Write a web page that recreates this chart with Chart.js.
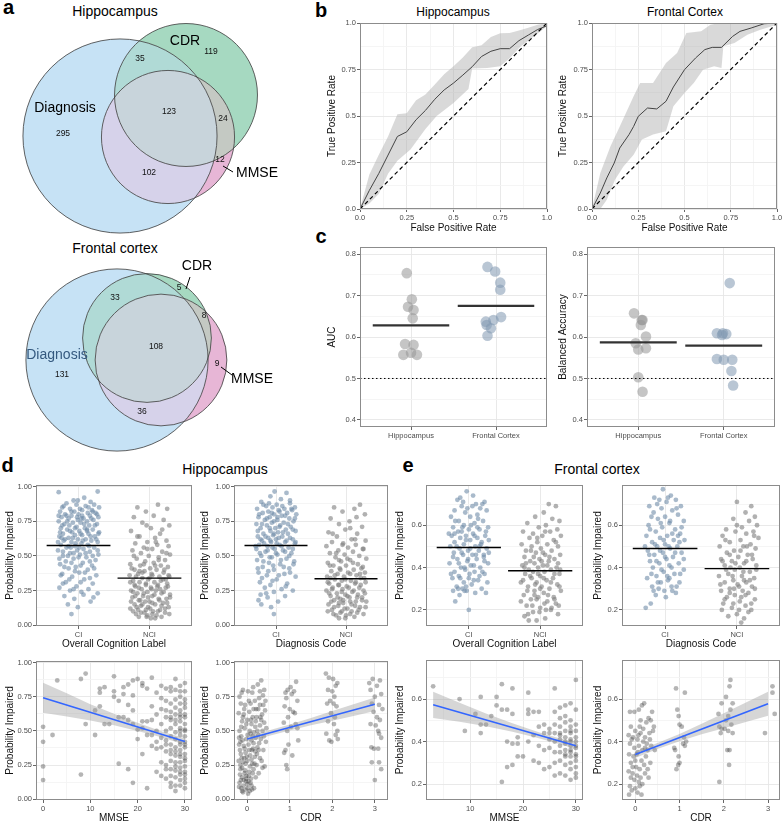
<!DOCTYPE html>
<html lang="en">
<head>
<meta charset="utf-8" />
<title>Hippocampus and frontal cortex models</title>
<style>
  * { margin: 0; padding: 0; }
  body { background: #fff; font-family: "Liberation Sans", Arial, sans-serif; }
  #fig { position: relative; width: 784px; height: 824px; overflow: hidden; }
  #fig canvas { position: absolute; }
  .txt { position: absolute; white-space: nowrap; line-height: 1; transform: translate(-50%, -50%); color: #000; }
  .tag { font-weight: bold; font-size: 20px; }
</style>
<script src="https://cdn.jsdelivr.net/npm/chart.js"></script>
</head>
<body>
<div id="fig">
  <div class="txt tag" style="left:8.5px;top:7px">a</div>
  <div class="txt tag" style="left:321px;top:10px">b</div>
  <div class="txt tag" style="left:321px;top:236px">c</div>
  <div class="txt tag" style="left:7.5px;top:465px">d</div>
  <div class="txt tag" style="left:408px;top:465px">e</div>
  <div class="txt" style="left:115px;top:11px;font-size:14px">Hippocampus</div>
  <div class="txt" style="left:115px;top:248px;font-size:14px">Frontal cortex</div>
  <div class="txt" style="left:453px;top:11.5px;font-size:12px">Hippocampus</div>
  <div class="txt" style="left:685px;top:11.5px;font-size:12px">Frontal Cortex</div>
  <div class="txt" style="left:225px;top:469px;font-size:14px">Hippocampus</div>
  <div class="txt" style="left:597px;top:469px;font-size:14px">Frontal cortex</div>
</div>
<script>
// ---------- a: Venn region counts (D, C, M, D&C, D&M, C&M, all three) ----------
const vennSets = ["Diagnosis", "CDR", "MMSE"];
const hipCounts = [295, 119, 12, 35, 102, 24, 123];
const frontCounts = [131, 5, 9, 33, 36, 8, 108];

// ---------- b: ROC curves ----------
const hipRocX = [0, 0.05, 0.1, 0.15, 0.2, 0.25, 0.3, 0.35, 0.4, 0.45, 0.5, 0.55, 0.6, 0.65, 0.7, 0.75, 0.8, 0.85, 0.9, 0.95, 1];
const hipRocY = [0, 0.1, 0.19, 0.29, 0.39, 0.415, 0.48, 0.53, 0.59, 0.64, 0.677, 0.72, 0.765, 0.82, 0.848, 0.862, 0.862, 0.905, 0.935, 0.965, 0.985];
const hipHiX = [0, 0.05, 0.1, 0.15, 0.2, 0.25, 0.3, 0.35, 0.4, 0.45, 0.5, 0.55, 0.6, 0.65, 0.7, 0.75, 0.8, 0.85, 0.9, 0.95, 1];
const hipHiY = [0, 0.185, 0.29, 0.39, 0.51, 0.515, 0.585, 0.615, 0.67, 0.725, 0.767, 0.815, 0.87, 0.88, 0.925, 0.945, 0.946, 0.96, 0.975, 0.99, 1];
const hipLoX = [0, 0.05, 0.1, 0.15, 0.2, 0.27, 0.35, 0.41, 0.5, 0.58, 0.6, 0.68, 0.75, 0.8, 0.86, 0.93, 1];
const hipLoY = [0, 0.03, 0.08, 0.19, 0.26, 0.32, 0.43, 0.5, 0.57, 0.645, 0.755, 0.758, 0.767, 0.81, 0.875, 0.928, 0.982];
const frontRocX = [0, 0.045, 0.08, 0.12, 0.15, 0.2, 0.225, 0.25, 0.3, 0.35, 0.4, 0.44, 0.5, 0.56, 0.61, 0.65, 0.7, 0.76, 0.8, 0.86, 0.93, 1];
const frontRocY = [0, 0.086, 0.167, 0.247, 0.328, 0.4, 0.444, 0.498, 0.543, 0.538, 0.579, 0.656, 0.749, 0.812, 0.857, 0.869, 0.869, 0.928, 0.955, 0.973, 0.996, 1];
const frontHiX = [0, 0.045, 0.1, 0.15, 0.225, 0.26, 0.33, 0.4, 0.46, 0.51, 0.59, 0.64, 0.69, 1];
const frontHiY = [0, 0.194, 0.337, 0.444, 0.606, 0.677, 0.677, 0.785, 0.839, 0.946, 0.955, 0.991, 1, 1];
const frontLoX = [0, 0.045, 0.08, 0.125, 0.17, 0.225, 0.27, 0.33, 0.4, 0.44, 0.5, 0.55, 0.6, 0.66, 0.7, 0.71, 0.77, 0.84, 0.91, 1];
const frontLoY = [0, 0, 0.05, 0.158, 0.229, 0.292, 0.373, 0.4, 0.418, 0.552, 0.624, 0.677, 0.749, 0.767, 0.758, 0.875, 0.892, 0.937, 0.964, 0.99];

// ---------- c: per-fold AUC / balanced accuracy ----------
const regions = ["Hippocampus", "Frontal Cortex"];
const aucHip = [[0.95, 0.754], [1.01, 0.691], [0.965, 0.673], [1.03, 0.665], [1.02, 0.645], [0.93, 0.583], [1.03, 0.581], [0.91, 0.557], [1.0, 0.562], [1.07, 0.557]];
const aucFront = [[1.9, 0.769], [1.99, 0.758], [2.05, 0.731], [2.05, 0.714], [2.06, 0.648], [1.97, 0.641], [1.88, 0.637], [1.89, 0.629], [1.94, 0.621], [1.9, 0.603]];
const baHip = [[0.95, 0.657], [1.05, 0.641], [1.04, 0.641], [1.03, 0.629], [1.09, 0.601], [0.97, 0.585], [1.0, 0.57], [1.09, 0.573], [1.0, 0.503], [1.05, 0.468]];
const baFront = [[2.07, 0.73], [1.92, 0.609], [1.99, 0.609], [2.03, 0.607], [1.98, 0.605], [1.92, 0.547], [2.0, 0.545], [2.1, 0.545], [2.09, 0.518], [2.11, 0.483]];
const aucMeans = [0.628, 0.675];
const baMeans = [0.587, 0.579];
const chance = 0.5;

// ---------- d: hippocampus predictions ----------
const groups = ["CI", "NCI"];
const hipCogCI = [[0.72,0.96],[1.27,0.965],[1.08,0.92],[0.93,0.9],[1.17,0.89],[0.83,0.88],[1.22,0.87],[0.97,0.87],[1.1,0.86],[0.77,0.85],[1.29,0.85],[1.02,0.84],[0.88,0.84],[1.19,0.83],[1.05,0.83],[0.74,0.82],[0.94,0.82],[1.24,0.81],[1.13,0.81],[0.81,0.8],[1.0,0.8],[0.9,0.79],[1.16,0.79],[1.28,0.78],[0.76,0.78],[1.07,0.77],[0.86,0.77],[0.99,0.76],[1.21,0.76],[0.72,0.75],[1.12,0.75],[0.92,0.74],[1.03,0.74],[0.8,0.73],[1.26,0.73],[1.15,0.72],[0.87,0.72],[0.97,0.71],[0.75,0.7],[1.09,0.7],[1.2,0.69],[0.84,0.69],[1.01,0.68],[0.91,0.67],[1.29,0.67],[0.78,0.66],[1.14,0.66],[1.05,0.65],[0.95,0.65],[0.73,0.64],[1.23,0.64],[0.86,0.63],[1.1,0.62],[0.99,0.62],[0.79,0.61],[1.18,0.61],[1.27,0.6],[0.9,0.6],[1.04,0.59],[0.75,0.58],[1.13,0.58],[0.95,0.57],[0.83,0.56],[1.22,0.56],[1.07,0.55],[0.71,0.54],[0.98,0.54],[1.16,0.53],[0.88,0.52],[1.28,0.51],[1.02,0.51],[0.78,0.5],[1.11,0.49],[0.93,0.48],[1.24,0.47],[0.82,0.46],[1.06,0.45],[0.74,0.44],[1.19,0.43],[0.96,0.42],[0.86,0.41],[1.13,0.4],[1.01,0.38],[0.77,0.37],[1.25,0.36],[0.91,0.35],[1.08,0.33],[0.82,0.31],[1.2,0.3],[0.97,0.28],[0.73,0.27],[1.14,0.26],[0.88,0.25],[1.04,0.24],[1.27,0.23],[0.8,0.21],[0.94,0.19],[1.17,0.17],[0.85,0.15],[0.99,0.13],[0.9,0.08],
  [0.79,0.86],[1.14,0.85],[0.9,0.82],[1.26,0.8],[1.05,0.79],[0.72,0.79],[0.98,0.78],[1.18,0.77],[0.84,0.75],[1.08,0.73],[1.23,0.72],[0.77,0.72],[0.95,0.7],[1.12,0.69],[0.88,0.68],[1.28,0.66],[1.03,0.66],[0.74,0.67],[1.17,0.64],[0.92,0.63],[0.81,0.62],[1.06,0.61],[1.25,0.62],[0.96,0.59],[0.71,0.6],[1.15,0.57],[0.86,0.57],[1.01,0.56],[1.27,0.54],[0.78,0.53],[0.93,0.52],[1.1,0.52],[1.2,0.5],[0.85,0.5],[1.0,0.49],[0.73,0.48],[1.16,0.46],[0.9,0.45],[1.03,0.43],[0.8,0.42],[1.22,0.41],[0.95,0.39],[1.09,0.38],[0.75,0.36],[1.16,0.34],[0.87,0.33],[1.03,0.31],[0.93,0.26],[1.21,0.2],[1.07,0.22],[0.78,0.3],[1.12,0.68],[0.83,0.79],[1.2,0.82],[0.99,0.9],[0.76,0.63],[1.04,0.77],[0.89,0.56]];
const hipCogNCI = [[1.83,0.85],[2.12,0.87],[2.25,0.84],[1.95,0.82],[2.06,0.79],[1.78,0.78],[2.2,0.76],[1.9,0.74],[2.28,0.72],[2.02,0.7],[1.74,0.68],[2.15,0.66],[1.86,0.64],[2.08,0.63],[2.24,0.61],[1.97,0.6],[1.8,0.59],[2.11,0.58],[2.27,0.57],[1.92,0.56],[2.04,0.55],[1.76,0.54],[2.18,0.53],[1.88,0.52],[2.29,0.51],[1.99,0.5],[2.13,0.49],[1.82,0.48],[2.22,0.47],[1.94,0.46],[2.06,0.45],[1.73,0.44],[2.16,0.43],[1.87,0.43],[2.26,0.42],[2.01,0.41],[1.79,0.4],[2.1,0.4],[1.93,0.39],[2.2,0.38],[1.84,0.37],[2.03,0.37],[1.72,0.36],[2.14,0.35],[2.28,0.35],[1.9,0.34],[1.98,0.33],[2.19,0.33],[1.77,0.32],[2.07,0.31],[1.86,0.31],[2.25,0.3],[1.95,0.29],[2.12,0.29],[1.8,0.28],[2.02,0.27],[2.23,0.27],[1.89,0.26],[1.74,0.25],[2.09,0.25],[1.97,0.24],[2.17,0.23],[1.83,0.23],[2.29,0.22],[2.04,0.21],[1.91,0.21],[1.76,0.2],[2.13,0.19],[2.24,0.19],[1.85,0.18],[2.0,0.17],[1.94,0.17],[2.19,0.16],[1.79,0.15],[2.08,0.15],[1.88,0.14],[2.27,0.13],[1.98,0.13],[1.73,0.12],[2.15,0.11],[1.84,0.11],[2.05,0.1],[1.93,0.09],[2.22,0.09],[1.81,0.08],[2.1,0.07],[1.96,0.06],[2.02,0.05],
  [1.75,0.41],[2.08,0.43],[2.21,0.4],[1.9,0.38],[2.27,0.36],[1.81,0.35],[2.0,0.34],[2.16,0.32],[1.73,0.31],[1.95,0.3],[2.11,0.28],[2.26,0.28],[1.85,0.27],[2.03,0.26],[1.77,0.24],[2.2,0.24],[1.92,0.23],[2.07,0.22],[1.8,0.21],[2.29,0.2],[1.98,0.2],[2.14,0.18],[1.87,0.18],[1.74,0.17],[2.25,0.16],[2.04,0.16],[1.9,0.15],[2.17,0.14],[1.82,0.13],[2.01,0.12],[2.22,0.12],[1.95,0.11],[1.77,0.1],[2.12,0.1],[1.88,0.09],[2.28,0.08],[2.04,0.08],[1.97,0.07],[2.17,0.06],[1.85,0.06],[2.08,0.05],[1.92,0.44],[2.13,0.47],[1.78,0.5],[2.24,0.52],[1.97,0.55],[2.09,0.6],[1.83,0.64],[2.18,0.69],[1.96,0.72],[2.04,0.36],[1.86,0.39],[2.23,0.33],[1.79,0.29],[2.15,0.26]];
const hipDxCI = [[0.98,0.965],[1.15,0.955],[0.92,0.93],[1.07,0.91],[0.79,0.89],[1.2,0.88],[1.01,0.87],[0.86,0.86],[1.27,0.85],[0.95,0.85],[1.12,0.84],[0.73,0.84],[1.04,0.83],[1.23,0.83],[0.89,0.82],[0.81,0.81],[1.16,0.81],[0.97,0.8],[1.29,0.8],[1.08,0.79],[0.75,0.78],[0.91,0.78],[1.19,0.77],[1.02,0.76],[0.84,0.76],[1.25,0.75],[0.94,0.74],[1.11,0.74],[0.72,0.73],[1.06,0.72],[0.87,0.72],[1.21,0.71],[0.99,0.7],[0.78,0.7],[1.14,0.69],[0.92,0.68],[1.28,0.68],[1.03,0.67],[0.82,0.66],[1.17,0.66],[0.96,0.65],[0.74,0.64],[1.09,0.64],[0.89,0.63],[1.24,0.62],[1.0,0.62],[0.8,0.61],[1.13,0.6],[0.93,0.6],[1.27,0.59],[1.05,0.58],[0.76,0.58],[0.88,0.57],[1.18,0.56],[0.98,0.55],[0.72,0.55],[1.1,0.54],[0.85,0.53],[1.22,0.52],[1.02,0.51],[0.79,0.5],[0.94,0.49],[1.15,0.48],[0.73,0.47],[1.26,0.46],[0.9,0.45],[1.06,0.44],[0.81,0.42],[1.19,0.41],[0.97,0.4],[0.75,0.38],[1.12,0.37],[0.87,0.36],[1.28,0.35],[1.01,0.33],[0.77,0.31],[1.16,0.3],[0.92,0.29],[0.84,0.27],[1.08,0.26],[1.24,0.25],[0.97,0.24],[0.78,0.22],[1.13,0.21],[0.88,0.2],[0.75,0.18],[1.03,0.17],[0.79,0.15],[0.93,0.13],[0.97,0.08],
  [0.82,0.87],[1.09,0.86],[1.22,0.84],[0.94,0.81],[0.76,0.8],[1.13,0.79],[1.02,0.78],[0.87,0.77],[1.27,0.77],[0.97,0.75],[1.17,0.73],[0.8,0.73],[1.05,0.71],[0.91,0.7],[1.24,0.69],[0.74,0.68],[1.1,0.67],[0.97,0.66],[0.85,0.64],[1.2,0.63],[1.04,0.63],[0.78,0.62],[0.92,0.61],[1.15,0.61],[1.28,0.6],[1.01,0.59],[0.83,0.59],[0.71,0.57],[1.08,0.57],[0.95,0.56],[1.24,0.55],[0.88,0.54],[1.13,0.53],[0.77,0.52],[1.0,0.52],[1.19,0.5],[0.91,0.49],[1.07,0.47],[0.82,0.46],[1.25,0.44],[0.96,0.43],[1.11,0.42],[0.74,0.41],[0.89,0.39],[1.2,0.38],[1.04,0.36],[0.8,0.34],[0.95,0.32],[1.14,0.28],[0.86,0.23],[1.05,0.82],[0.9,0.88],[1.2,0.9]];
const hipDxNCI = [[2.2,0.87],[1.83,0.85],[2.12,0.84],[1.95,0.82],[2.27,0.8],[1.78,0.77],[2.05,0.75],[1.9,0.73],[2.23,0.71],[1.99,0.69],[1.75,0.67],[2.16,0.66],[1.87,0.64],[2.08,0.62],[2.28,0.61],[1.8,0.6],[1.96,0.59],[2.14,0.58],[1.72,0.57],[2.03,0.56],[2.25,0.55],[1.89,0.54],[2.1,0.53],[1.77,0.52],[1.98,0.51],[2.19,0.5],[1.85,0.49],[2.29,0.48],[2.06,0.47],[1.93,0.46],[1.74,0.45],[2.17,0.44],[2.0,0.43],[1.82,0.43],[2.24,0.42],[1.91,0.41],[2.11,0.4],[1.79,0.39],[2.03,0.38],[2.27,0.38],[1.88,0.37],[2.15,0.36],[1.73,0.35],[1.97,0.35],[2.21,0.34],[1.84,0.33],[2.07,0.32],[1.94,0.32],[2.28,0.31],[1.76,0.3],[2.13,0.3],[1.9,0.29],[2.01,0.28],[2.19,0.27],[1.81,0.27],[1.95,0.26],[2.25,0.25],[1.72,0.25],[2.09,0.24],[1.87,0.23],[2.17,0.22],[1.99,0.22],[1.78,0.21],[2.23,0.2],[2.05,0.2],[1.92,0.19],[1.83,0.18],[2.14,0.17],[2.29,0.17],[1.96,0.16],[1.75,0.15],[2.08,0.15],[1.89,0.14],[2.2,0.13],[2.02,0.12],[1.8,0.11],[1.94,0.1],[2.16,0.09],[2.06,0.08],[1.86,0.07],[1.99,0.05],
  [1.77,0.43],[2.1,0.45],[2.22,0.41],[1.92,0.4],[2.06,0.37],[1.84,0.36],[2.26,0.34],[1.99,0.33],[2.14,0.31],[1.74,0.31],[1.89,0.29],[2.21,0.29],[2.04,0.27],[1.8,0.26],[2.11,0.25],[1.94,0.24],[2.27,0.23],[1.76,0.23],[2.02,0.21],[2.16,0.2],[1.88,0.2],[1.96,0.18],[2.23,0.18],[1.79,0.17],[2.06,0.17],[1.9,0.16],[2.13,0.14],[2.28,0.13],[1.83,0.13],[1.98,0.12],[2.18,0.11],[1.74,0.1],[2.08,0.1],[1.92,0.09],[2.25,0.08],[1.82,0.08],[2.0,0.07],[2.12,0.06],[1.9,0.05],[2.02,0.48],[1.86,0.52],[2.24,0.55],[1.95,0.58],[2.13,0.62],[1.81,0.66],[2.06,0.7],[2.15,0.78],[1.9,0.47],[2.2,0.37],[1.78,0.34]];
const hipCogMeans = [0.575, 0.34];
const hipDxMeans = [0.575, 0.335];
const hipMmse = [[0,0.53],[0,0.42],[0,0.24],[0,0.14],[2,0.47],[3,0.87],[8,0.88],[8,0.18],[9,0.92],[9,0.55],[11,0.65],[11,0.47],[12,0.81],[12,0.78],[12,0.68],[13,0.82],[13,0.55],[14,0.55],[15,0.9],[15,0.79],[15,0.75],[16,0.26],[16,0.6],[16,0.72],[17,0.77],[17,0.82],[17,0.6],[18,0.84],[18,0.69],[18,0.22],[18,0.58],[19,0.87],[19,0.76],[19,0.65],[19,0.12],[19,0.55],[20,0.88],[20,0.44],[20,0.51],[21,0.85],[21,0.83],[21,0.57],[21,0.33],[21,0.52],[22,0.81],[22,0.57],[22,0.08],[22,0.47],[23,0.89],[23,0.68],[23,0.58],[23,0.47],[23,0.39],[24,0.78],[24,0.62],[24,0.5],[24,0.42],[24,0.37],[24,0.2],[25,0.83],[25,0.74],[25,0.66],[25,0.55],[25,0.45],[25,0.38],[25,0.27],[25,0.17],[26,0.81],[26,0.72],[26,0.65],[26,0.6],[26,0.5],[26,0.43],[26,0.35],[26,0.25],[26,0.22],[26,0.15],[26,0.4],[27,0.82],[27,0.79],[27,0.7],[27,0.64],[27,0.58],[27,0.52],[27,0.46],[27,0.4],[27,0.33],[27,0.28],[27,0.22],[27,0.17],[27,0.12],[27,0.09],[27,0.6],[27,0.36],[28,0.88],[28,0.8],[28,0.73],[28,0.67],[28,0.62],[28,0.55],[28,0.49],[28,0.44],[28,0.38],[28,0.32],[28,0.27],[28,0.21],[28,0.16],[28,0.1],[28,0.06],[28,0.58],[28,0.35],[28,0.24],[29,0.83],[29,0.79],[29,0.75],[29,0.7],[29,0.65],[29,0.6],[29,0.57],[29,0.52],[29,0.47],[29,0.42],[29,0.36],[29,0.31],[29,0.27],[29,0.23],[29,0.18],[29,0.14],[29,0.1],[29,0.5],[29,0.33],[29,0.2],[29,0.4],[29,0.62],[30,0.85],[30,0.79],[30,0.73],[30,0.67],[30,0.62],[30,0.55],[30,0.51],[30,0.46],[30,0.42],[30,0.38],[30,0.33],[30,0.28],[30,0.24],[30,0.2],[30,0.15],[30,0.12],[30,0.08],[30,0.6],[30,0.4],[30,0.3],[30,0.18],[30,0.5],[30,0.7]];
const hipCdr = [[-0.18,0.75],[-0.1,0.8],[0.02,0.79],[0.12,0.78],[0.25,0.84],[0.33,0.87],[0.4,0.8],[0.3,0.79],[-0.15,0.7],[-0.05,0.69],[0.08,0.7],[0.18,0.72],[0.28,0.74],[0.38,0.69],[-0.2,0.63],[-0.08,0.62],[0.05,0.64],[0.15,0.66],[0.22,0.6],[0.35,0.62],[0.42,0.65],[-0.12,0.57],[0.0,0.58],[0.1,0.55],[0.2,0.57],[0.3,0.54],[0.4,0.56],[-0.18,0.5],[-0.06,0.52],[0.06,0.5],[0.16,0.49],[0.26,0.47],[0.36,0.5],[-0.14,0.46],[-0.02,0.44],[0.1,0.43],[0.2,0.45],[0.32,0.44],[0.44,0.42],[-0.19,0.4],[-0.08,0.39],[0.03,0.4],[0.14,0.37],[0.24,0.38],[0.38,0.36],[-0.15,0.33],[-0.04,0.34],[0.07,0.32],[0.18,0.31],[0.3,0.3],[-0.2,0.28],[-0.1,0.27],[0.0,0.28],[0.12,0.26],[0.22,0.25],[0.36,0.23],[-0.16,0.22],[-0.05,0.21],[0.05,0.2],[0.15,0.22],[0.27,0.19],[-0.12,0.16],[-0.02,0.15],[-0.08,0.14],[0.09,0.15],[0.2,0.16],[-0.18,0.12],[0.0,0.11],[0.1,0.1],[-0.14,0.08],[-0.04,0.07],[0.06,0.06],[0.16,0.08],[-0.1,0.05],[0.02,0.04],[0.13,0.6],[0.26,0.66],[-0.1,0.6],[0.33,0.58],[0.08,0.48],[-0.16,0.42],[0.28,0.41],[0.19,0.35],[-0.07,0.3],[0.41,0.24],[0.34,0.28],[-0.02,0.17],[0.03,0.13],[-0.12,0.23],[0.11,0.36],
  [-0.17,0.18],[-0.06,0.19],[0.04,0.17],[0.13,0.19],[-0.15,0.14],[-0.03,0.13],[0.08,0.12],[-0.19,0.09],[-0.09,0.1],[0.01,0.08],[0.11,0.07],[-0.12,0.06],[-0.16,0.25],[-0.04,0.26],[0.07,0.24],[0.17,0.26],[-0.13,0.3],[-0.01,0.31],[0.1,0.29],[0.23,0.33],[-0.17,0.36],[-0.06,0.37],[0.05,0.36],[0.15,0.41],[0.27,0.36],[-0.11,0.43],[0.01,0.47],[0.13,0.46],[0.24,0.5],[0.39,0.46],[-0.14,0.53],[-0.02,0.55],[0.09,0.58],[0.19,0.53],[0.31,0.6],[-0.07,0.66],[0.04,0.72],[0.21,0.66],[0.37,0.76],[-0.13,0.78],[0.14,0.82],[0.43,0.72],[0.3,0.69],[-0.19,0.45],[0.45,0.52],
  [0.9,0.78],[0.95,0.8],[1.02,0.82],[1.1,0.79],[1.15,0.86],[0.92,0.74],[1.05,0.77],[1.18,0.72],[0.88,0.68],[1.0,0.66],[1.12,0.63],[0.96,0.6],[1.08,0.64],[0.86,0.56],[1.14,0.55],[1.03,0.53],[0.94,0.5],[1.18,0.52],[1.2,0.43],[0.9,0.36],[0.97,0.4],[1.06,0.32],[0.92,0.25],[0.94,0.22],[0.87,0.34],
  [1.85,0.92],[1.92,0.89],[2.02,0.88],[2.08,0.83],[2.12,0.85],[1.9,0.8],[2.0,0.79],[2.05,0.75],[1.95,0.72],[1.88,0.7],[2.03,0.7],[2.1,0.68],[1.97,0.63],[2.06,0.6],[1.9,0.57],[2.12,0.5],[2.08,0.47],[1.93,0.43],[1.98,0.42],[2.13,0.44],[2.04,0.55],[1.86,0.48],
  [2.87,0.85],[2.95,0.88],[3.12,0.87],[3.05,0.83],[2.9,0.8],[3.15,0.77],[3.0,0.75],[2.93,0.7],[3.1,0.69],[3.18,0.66],[2.97,0.64],[3.05,0.6],[3.12,0.58],[2.9,0.55],[3.02,0.54],[3.08,0.5],[3.15,0.45],[2.92,0.38],[2.98,0.37],[3.08,0.37],[3.1,0.27],[2.93,0.27],[3.15,0.22],[3.0,0.14],[3.1,0.48]];
const hipMmseFitX = [0, 30], hipMmseFitY = [0.743, 0.422];
const hipMmseBandX = [0, 5, 10, 15, 20, 25, 30];
const hipMmseBandLo = [0.633, 0.605, 0.576, 0.541, 0.499, 0.454, 0.398];
const hipMmseBandHi = [0.853, 0.775, 0.696, 0.625, 0.559, 0.498, 0.446];
const hipCdrFitX = [0, 3], hipCdrFitY = [0.44, 0.695];
const hipCdrBandX = [0, 0.5, 1, 1.5, 2, 2.5, 3];
const hipCdrBandLo = [0.418, 0.463, 0.503, 0.541, 0.575, 0.61, 0.645];
const hipCdrBandHi = [0.462, 0.503, 0.547, 0.595, 0.645, 0.696, 0.745];

// ---------- e: frontal cortex predictions ----------
const frontCogCI = [[0.97,0.76],[0.84,0.72],[0.92,0.71],[1.1,0.7],[1.22,0.71],[0.9,0.69],[1.05,0.69],[1.16,0.68],[0.8,0.67],[1.25,0.67],[0.95,0.66],[1.12,0.65],[0.75,0.64],[1.02,0.64],[0.86,0.62],[1.2,0.62],[1.08,0.61],[0.93,0.6],[0.78,0.59],[1.27,0.59],[1.0,0.58],[1.15,0.58],[0.85,0.57],[1.06,0.56],[0.72,0.56],[1.23,0.55],[0.96,0.55],[0.88,0.54],[1.12,0.54],[1.28,0.53],[1.02,0.53],[0.8,0.52],[1.18,0.52],[0.93,0.51],[1.09,0.5],[0.74,0.5],[1.25,0.49],[0.87,0.49],[0.99,0.48],[1.14,0.48],[0.79,0.47],[1.05,0.46],[0.92,0.46],[1.21,0.45],[0.84,0.44],[1.11,0.44],[0.98,0.43],[0.73,0.42],[1.27,0.42],[1.03,0.41],[0.89,0.4],[1.16,0.4],[0.95,0.39],[0.8,0.38],[1.08,0.38],[1.22,0.37],[0.86,0.36],[1.0,0.35],[0.77,0.35],[1.13,0.34],[0.93,0.33],[1.26,0.33],[1.04,0.32],[0.83,0.31],[0.91,0.3],[1.18,0.3],[0.78,0.29],[0.97,0.29],[1.09,0.28],[0.87,0.27],[1.24,0.28],[0.81,0.24],[1.0,0.2],[0.94,0.29],[1.15,0.5],[0.9,0.57],
  [1.06,0.74],[0.88,0.73],[1.19,0.7],[0.98,0.68],[1.13,0.63],[0.81,0.62],[1.03,0.6],[0.91,0.59],[1.24,0.57],[0.76,0.55],[1.08,0.55],[0.96,0.53],[1.17,0.51],[0.83,0.5],[1.02,0.49],[1.28,0.47],[0.9,0.47],[1.1,0.46],[0.78,0.45],[0.99,0.44],[1.22,0.43],[0.86,0.42],[1.07,0.41],[0.94,0.4],[1.19,0.38],[0.75,0.37],[1.01,0.37],[0.88,0.35],[1.15,0.36],[0.96,0.31],[1.07,0.34],[0.85,0.3],[1.21,0.46],[0.8,0.56],[1.12,0.59]];
const frontCogNCI = [[2.12,0.7],[2.22,0.69],[2.05,0.66],[1.93,0.64],[2.17,0.63],[2.27,0.62],[1.82,0.61],[2.08,0.6],[1.98,0.59],[2.24,0.58],[1.76,0.57],[2.14,0.57],[1.9,0.56],[2.03,0.55],[2.29,0.55],[1.85,0.54],[2.19,0.53],[1.96,0.52],[1.74,0.51],[2.1,0.51],[2.25,0.5],[1.88,0.5],[2.01,0.49],[1.8,0.48],[2.16,0.48],[1.94,0.47],[2.28,0.46],[2.07,0.46],[1.78,0.45],[1.99,0.44],[2.2,0.44],[1.86,0.43],[2.12,0.43],[1.92,0.42],[2.04,0.41],[1.75,0.41],[2.23,0.4],[1.97,0.4],[1.84,0.39],[2.15,0.39],[2.06,0.38],[1.9,0.38],[2.27,0.37],[1.79,0.37],[2.0,0.36],[2.18,0.35],[1.88,0.35],[2.09,0.34],[1.95,0.33],[1.73,0.33],[2.24,0.32],[2.02,0.31],[1.83,0.31],[2.13,0.3],[1.92,0.29],[2.29,0.29],[2.05,0.28],[1.77,0.27],[2.19,0.26],[1.97,0.26],[1.87,0.25],[2.1,0.24],[2.22,0.23],[1.81,0.22],[2.0,0.21],[2.15,0.2],[1.9,0.19],[1.78,0.17],[2.07,0.16],[1.95,0.15],[1.84,0.15],[2.26,0.22],
  [2.04,0.47],[1.91,0.45],[2.25,0.42],[1.8,0.42],[2.1,0.41],[1.97,0.37],[2.2,0.37],[1.86,0.36],[2.05,0.35],[1.76,0.34],[2.15,0.33],[1.93,0.32],[2.27,0.31],[2.0,0.3],[1.82,0.29],[2.11,0.27],[1.95,0.25],[2.2,0.25],[1.73,0.24],[2.06,0.23],[1.89,0.22],[2.16,0.21],[1.99,0.19],[2.25,0.18],[1.83,0.18],[2.08,0.2],[1.92,0.27],[2.13,0.45],[1.87,0.48],[2.22,0.52],[1.96,0.54],[2.07,0.57],[1.78,0.4],[2.28,0.39],[2.02,0.43]];
const frontDxCI = [[0.97,0.77],[0.85,0.73],[1.08,0.74],[0.92,0.72],[1.15,0.72],[1.02,0.71],[0.78,0.69],[1.22,0.69],[0.95,0.68],[1.1,0.67],[0.84,0.66],[1.18,0.65],[1.0,0.64],[0.9,0.63],[1.26,0.62],[1.06,0.61],[0.77,0.6],[0.96,0.59],[1.14,0.58],[0.87,0.57],[1.21,0.56],[1.03,0.55],[0.74,0.55],[0.93,0.54],[1.12,0.53],[1.27,0.53],[0.82,0.52],[1.0,0.51],[1.17,0.5],[0.89,0.5],[1.07,0.49],[0.76,0.48],[1.23,0.47],[0.97,0.47],[0.85,0.46],[1.11,0.45],[1.02,0.44],[0.79,0.43],[1.19,0.42],[0.92,0.42],[1.06,0.41],[0.83,0.4],[1.26,0.39],[0.98,0.38],[1.13,0.37],[0.88,0.36],[0.75,0.35],[1.04,0.34],[1.2,0.33],[0.94,0.33],[0.82,0.31],[1.09,0.31],[0.99,0.29],[1.15,0.28],[0.87,0.27],[0.91,0.3],[1.1,0.29],[0.8,0.23],[0.73,0.21],[1.06,0.35],
  [1.04,0.73],[0.89,0.7],[1.16,0.68],[0.81,0.64],[1.07,0.62],[0.94,0.61],[1.23,0.59],[0.79,0.58],[1.1,0.56],[0.98,0.53],[0.86,0.51],[1.2,0.52],[1.05,0.5],[0.93,0.48],[1.14,0.47],[0.78,0.46],[1.0,0.45],[1.26,0.44],[0.88,0.43],[1.09,0.4],[0.95,0.39],[1.21,0.37],[0.81,0.37],[1.03,0.36],[0.9,0.33],[1.16,0.31],[0.84,0.29],[1.01,0.26],[1.18,0.55],[0.72,0.5]];
const frontDxNCI = [[2.0,0.71],[2.2,0.69],[2.12,0.66],[2.25,0.64],[1.95,0.63],[2.17,0.62],[2.28,0.6],[2.07,0.59],[1.85,0.58],[2.23,0.57],[1.98,0.57],[2.13,0.56],[1.8,0.55],[2.3,0.54],[2.05,0.53],[1.9,0.52],[2.19,0.51],[1.76,0.5],[2.09,0.5],[2.26,0.49],[1.96,0.48],[1.86,0.47],[2.15,0.46],[2.02,0.45],[1.78,0.44],[2.22,0.44],[1.93,0.43],[2.1,0.42],[1.83,0.41],[2.27,0.41],[2.04,0.4],[1.97,0.39],[2.18,0.38],[1.88,0.37],[1.75,0.36],[2.07,0.36],[2.24,0.35],[1.95,0.34],[1.83,0.33],[2.13,0.33],[2.01,0.32],[2.21,0.31],[1.9,0.3],[1.78,0.29],[2.08,0.29],[2.16,0.28],[1.97,0.27],[1.86,0.26],[2.25,0.25],[2.04,0.24],[1.81,0.23],[2.12,0.22],[1.93,0.21],[2.2,0.2],[2.0,0.18],[1.88,0.17],[2.1,0.16],[2.06,0.14],
  [2.05,0.48],[1.9,0.46],[2.21,0.46],[1.8,0.43],[2.13,0.43],[1.98,0.42],[2.27,0.39],[1.85,0.39],[2.09,0.38],[1.94,0.36],[2.18,0.34],[1.77,0.32],[2.03,0.31],[2.25,0.3],[1.9,0.28],[2.12,0.27],[1.83,0.25],[2.06,0.26],[2.2,0.23],[1.95,0.23],[1.79,0.2],[2.16,0.19],[2.03,0.2],[1.91,0.4],[2.14,0.5],[1.84,0.53],[2.24,0.55],[2.0,0.6],[2.1,0.34],[1.96,0.3]];
const frontCogMeans = [0.495, 0.385];
const frontDxMeans = [0.49, 0.395];
const frontMmse = [[3,0.66],[8,0.6],[9,0.45],[11,0.53],[12,0.61],[12,0.48],[12,0.44],[13,0.48],[14,0.52],[15,0.61],[15,0.57],[16,0.67],[16,0.55],[16,0.21],[17,0.55],[17,0.4],[17,0.28],[18,0.65],[18,0.53],[18,0.39],[18,0.29],[19,0.42],[19,0.39],[19,0.33],[20,0.33],[21,0.63],[21,0.55],[21,0.53],[21,0.4],[22,0.54],[22,0.43],[22,0.31],[23,0.54],[23,0.47],[23,0.38],[23,0.3],[24,0.48],[24,0.44],[24,0.36],[24,0.27],[25,0.46],[25,0.44],[25,0.41],[25,0.37],[25,0.28],[26,0.65],[26,0.54],[26,0.48],[26,0.44],[26,0.4],[26,0.35],[26,0.3],[26,0.24],[27,0.56],[27,0.51],[27,0.47],[27,0.44],[27,0.41],[27,0.38],[27,0.35],[27,0.31],[27,0.25],[27,0.43],[28,0.57],[28,0.52],[28,0.49],[28,0.45],[28,0.42],[28,0.39],[28,0.36],[28,0.33],[28,0.29],[28,0.24],[28,0.4],[28,0.34],[29,0.58],[29,0.5],[29,0.47],[29,0.44],[29,0.41],[29,0.38],[29,0.36],[29,0.33],[29,0.3],[29,0.27],[29,0.22],[29,0.45],[29,0.35],[29,0.4],[30,0.69],[30,0.55],[30,0.48],[30,0.45],[30,0.42],[30,0.4],[30,0.37],[30,0.34],[30,0.31],[30,0.28],[30,0.25],[30,0.23],[30,0.38],[30,0.33]];
const frontCdr = [[-0.12,0.54],[-0.02,0.54],[0.08,0.55],[0.15,0.57],[0.2,0.58],[0.3,0.51],[0.38,0.54],[-0.1,0.47],[0.0,0.45],[0.1,0.47],[0.18,0.46],[0.25,0.49],[0.35,0.5],[0.42,0.47],[-0.15,0.43],[-0.05,0.42],[0.05,0.41],[0.12,0.44],[0.22,0.42],[0.32,0.44],[0.4,0.45],[-0.12,0.39],[-0.02,0.37],[0.08,0.38],[0.16,0.36],[0.26,0.39],[0.36,0.38],[0.44,0.36],[-0.14,0.34],[-0.04,0.33],[0.06,0.35],[0.14,0.31],[0.24,0.33],[0.34,0.3],[-0.1,0.3],[0.02,0.28],[0.1,0.27],[0.2,0.29],[0.28,0.27],[-0.15,0.26],[-0.06,0.25],[0.04,0.24],[0.12,0.23],[0.22,0.25],[0.3,0.23],[-0.1,0.23],[-0.02,0.22],[0.08,0.21],[0.16,0.2],[-0.12,0.19],[0.0,0.18],[0.1,0.19],[-0.08,0.17],[0.05,0.16],[0.14,0.15],[-0.14,0.15],[0.03,0.34],[0.18,0.4],[-0.08,0.41],[0.28,0.36],[0.12,0.5],[0.0,0.31],[-0.06,0.28],[0.07,0.43],[0.33,0.41],[0.22,0.37],
  [0.92,0.65],[1.12,0.63],[0.95,0.55],[0.98,0.52],[1.0,0.48],[1.05,0.47],[1.1,0.42],[1.15,0.4],[1.08,0.39],[0.88,0.37],[0.9,0.36],[1.12,0.38],[0.98,0.33],[1.0,0.3],[0.97,0.29],[0.93,0.27],
  [2.15,0.69],[2.13,0.66],[2.05,0.61],[1.95,0.58],[2.2,0.58],[2.15,0.55],[2.1,0.52],[1.88,0.53],[2.05,0.5],[1.9,0.47],[1.95,0.46],[2.02,0.46],[1.93,0.44],[2.17,0.48],[2.1,0.45],[2.08,0.36],[2.13,0.36],[2.12,0.29],[1.9,0.21],[2.2,0.44],
  [2.93,0.44],[3.1,0.66],[3.1,0.63],[3.15,0.53]];
const frontMmseFitX = [3, 30], frontMmseFitY = [0.573, 0.38];
const frontMmseBandX = [3, 8, 13, 18, 23, 28, 30];
const frontMmseBandLo = [0.511, 0.493, 0.472, 0.446, 0.416, 0.38, 0.362];
const frontMmseBandHi = [0.635, 0.583, 0.532, 0.486, 0.444, 0.408, 0.398];
const frontCdrFitX = [0, 3], frontCdrFitY = [0.339, 0.578];
const frontCdrBandX = [0, 0.5, 1, 1.5, 2, 2.5, 3];
const frontCdrBandLo = [0.323, 0.365, 0.402, 0.434, 0.463, 0.492, 0.521];
const frontCdrBandHi = [0.355, 0.393, 0.436, 0.484, 0.533, 0.584, 0.635];

// ---------- styling / layout ----------
const FONT = '"Liberation Sans", Arial, Helvetica, sans-serif';
Chart.defaults.font.family = FONT;
Chart.defaults.color = "#4d4d4d";
const fig = document.getElementById("fig");
const CI_COL = "rgba(112,140,168,0.6)";
const NCI_COL = "rgba(125,125,125,0.6)";
const DOT_COL = "rgba(60,60,60,0.38)";

const xy = (a) => a.map(([x, y]) => ({ x, y }));
const zipXY = (xs, ys) => xs.map((x, i) => ({ x, y: ys[i] }));
const poly = (hx, hy, lx, ly) => zipXY(hx, hy).concat(zipXY(lx, ly).reverse());

const panelBox = {
  id: "panelBox",
  afterDraw(chart) {
    const { ctx, chartArea: a } = chart;
    ctx.save();
    ctx.strokeStyle = "#8c8c8c";
    ctx.lineWidth = 1;
    ctx.strokeRect(Math.round(a.left) + 0.5, Math.round(a.top) + 0.5, Math.round(a.right - a.left) - 1, Math.round(a.bottom - a.top) - 1);
    ctx.restore();
  },
};

function scale(min, max, major, labels, minor, title) {
  const all = major.concat(minor || []).sort((a, b) => a - b);
  const isMajor = (c) => c.tick && major.indexOf(c.tick.value) >= 0;
  return {
    type: "linear", min, max,
    afterBuildTicks: (s) => { s.ticks = all.map((v) => ({ value: v })); },
    ticks: {
      autoSkip: false, maxRotation: 0, minRotation: 0, padding: 1, color: "#4d4d4d", font: { size: 7.5 },
      callback: (v) => { const i = major.indexOf(v); return i < 0 ? "" : labels[i]; },
    },
    grid: {
      color: (c) => (isMajor(c) ? "#e6e6e6" : "#f4f4f4"),
      tickColor: (c) => (isMajor(c) ? "#555" : "rgba(0,0,0,0)"),
      tickLength: 3, lineWidth: 0.9,
    },
    border: { display: false },
    title: { display: !!title, text: title || "", color: "#111", font: { size: 10 }, padding: 0 },
  };
}

function plot(box, xs, ys, datasets) {
  const cv = document.createElement("canvas");
  const w = box.W + (box.R - box.L) + box.PR;
  const h = box.PT + (box.B - box.T) + box.H;
  cv.width = w; cv.height = h;
  cv.style.left = box.L - box.W + "px"; cv.style.top = box.T - box.PT + "px";
  cv.style.width = w + "px"; cv.style.height = h + "px";
  fig.appendChild(cv);
  xs.afterFit = (s) => { s.height = box.H; };
  ys.afterFit = (s) => { s.width = box.W; };
  return new Chart(cv, {
    type: "scatter",
    data: { datasets },
    options: {
      responsive: false, animation: false, events: [],
      layout: { padding: { left: 0, top: box.PT, right: box.PR, bottom: 0 } },
      scales: { x: xs, y: ys },
      plugins: { legend: { display: false }, tooltip: { enabled: false } },
    },
    plugins: [panelBox],
  });
}

const line = (data, color, width, dash, order) => ({
  type: "line", data, borderColor: color, borderWidth: width, borderDash: dash || [],
  pointRadius: 0, fill: false, order: order,
});
const band = (data, color, order) => ({
  type: "line", data, fill: "shape", backgroundColor: color, borderColor: "rgba(0,0,0,0)",
  borderWidth: 0, pointRadius: 0, order: order,
});
const dots = (data, color, r, order) => ({
  data: xy(data), backgroundColor: color, borderWidth: 0, pointRadius: r, order: order,
});
const meanSegs = (means, color, width) =>
  means.map((m, i) => line([{ x: i + 0.55, y: m }, { x: i + 1.45, y: m }], color, width, [], 0));

// ---------- a: Venn diagrams (circles sized from set totals, drawn through the scales) ----------
const setTotals = (c) => [c[0] + c[3] + c[4] + c[6], c[1] + c[3] + c[5] + c[6], c[2] + c[4] + c[5] + c[6]];
const hipCenters = [[120, 136], [186, 95], [168, 137]];
const frontCenters = [[117, 360], [147, 338], [161, 360]];
const hipK = 4.12, frontK = 5.19;
// membership of each count region in (D, C, M) and the tint it is painted with
const vennRegions = [[1, 0, 0], [0, 1, 0], [0, 0, 1], [1, 1, 0], [1, 0, 1], [0, 1, 1], [1, 1, 1]];
const vennRegionFill = ["#c6e2f5", "#a6d9c1", "#e7b6d6", "#b0dad6", "#d6d2ea", "#c4c9c3", "#c8d4db"];
const hipCountPos = [[63, 134], [211, 52], [220, 160], [140, 59], [149, 173], [223, 119], [169, 112]];
const frontCountPos = [[62, 375], [179, 288], [217, 364], [115, 298], [142, 412], [204, 316], [156, 347]];
const hipNamePos = [[65, 108], [185, 41], [257, 173]];
const frontNamePos = [[57, 355], [197, 266], [252, 379]];
const vennLeaders = [[[223, 166], [233, 172]], [[190, 277], [186, 289]], [[221, 367], [232, 375]]];
const vennDiagrams = [[hipCenters, hipCounts, hipK], [frontCenters, frontCounts, frontK]];

function vennCircles(centers, counts, k) {
  const totals = setTotals(counts);
  return centers.map((c, i) => ({
    data: [{ x: c[0], y: c[1] }],
    pointRadius: (ctx) => {
      const s = ctx.chart.scales.x;
      return Math.abs(s.getPixelForValue(k * Math.sqrt(totals[i])) - s.getPixelForValue(0));
    },
    pointBackgroundColor: "rgba(0,0,0,0)", pointBorderColor: "#3a3a3a", pointBorderWidth: 0.8,
  }));
}

const vennFill = {
  id: "vennFill",
  beforeDatasetsDraw(chart) {
    const { ctx, scales: { x, y }, width, height } = chart;
    vennDiagrams.forEach(([cs, cnt, k]) => {
      const tot = setTotals(cnt);
      const circ = cs.map((c, i) => [x.getPixelForValue(c[0]), y.getPixelForValue(c[1]),
        Math.abs(x.getPixelForValue(k * Math.sqrt(tot[i])) - x.getPixelForValue(0))]);
      vennRegions.forEach((m, ri) => {
        ctx.save();
        circ.forEach(([cx, cy, r], i) => {
          ctx.beginPath();
          if (!m[i]) ctx.rect(0, 0, width, height);
          ctx.arc(cx, cy, r, 0, Math.PI * 2);
          ctx.clip("evenodd");
        });
        ctx.fillStyle = vennRegionFill[ri];
        ctx.fillRect(0, 0, width, height);
        ctx.restore();
      });
    });
  },
};

const vennText = {
  id: "vennText",
  afterDatasetsDraw(chart) {
    const { ctx, scales: { x, y } } = chart;
    const P = (p) => [x.getPixelForValue(p[0]), y.getPixelForValue(p[1])];
    ctx.save();
    ctx.textAlign = "center"; ctx.textBaseline = "middle";
    ctx.fillStyle = "#111";
    ctx.font = "8.5px " + FONT;
    [[hipCounts, hipCountPos], [frontCounts, frontCountPos]].forEach(([cnt, pos]) =>
      cnt.forEach((v, i) => { const [px, py] = P(pos[i]); ctx.fillText(String(v), px, py); }));
    ctx.font = "14px " + FONT;
    hipNamePos.forEach((p, i) => { const [px, py] = P(p); ctx.fillStyle = "#000"; ctx.fillText(vennSets[i], px, py); });
    frontNamePos.forEach((p, i) => { const [px, py] = P(p); ctx.fillStyle = i === 0 ? "#34597f" : "#000"; ctx.fillText(vennSets[i], px, py); });
    ctx.strokeStyle = "#000"; ctx.lineWidth = 1;
    vennLeaders.forEach(([a, b]) => {
      const [ax, ay] = P(a), [bx, by] = P(b);
      ctx.beginPath(); ctx.moveTo(ax, ay); ctx.lineTo(bx, by); ctx.stroke();
    });
    ctx.restore();
  },
};

(function () {
  const cv = document.createElement("canvas");
  cv.width = 300; cv.height = 460;
  cv.style.left = "0px"; cv.style.top = "0px"; cv.style.width = "300px"; cv.style.height = "460px";
  fig.appendChild(cv);
  new Chart(cv, {
    type: "scatter",
    data: { datasets: vennDiagrams.flatMap(([cs, cnt, k]) => vennCircles(cs, cnt, k)) },
    options: {
      responsive: false, animation: false, events: [],
      layout: { padding: 0 },
      scales: { x: { display: false, min: 0, max: 300 }, y: { display: false, min: 0, max: 460, reverse: true } },
      plugins: { legend: { display: false }, tooltip: { enabled: false } },
    },
    plugins: [vennFill, vennText],
  });
})();

// ---------- b: ROC ----------
const unitMajor = [0, 0.25, 0.5, 0.75, 1], unitLabels = ["0.0", "0.25", "0.5", "0.75", "1.0"], unitMinor = [0.125, 0.375, 0.625, 0.875];
const chanceLine = [{ x: 0, y: 0 }, { x: 1, y: 1 }];
function roc(box, rx, ry, hx, hy, lx, ly) {
  plot(box,
    scale(0, 1, unitMajor, unitLabels, unitMinor, "False Positive Rate"),
    scale(0, 1, unitMajor, unitLabels, unitMinor, "True Positive Rate"),
    [band(poly(hx, hy, lx, ly), "rgba(170,170,170,0.45)", 2),
     line(zipXY(rx, ry), "#444", 1, [], 1),
     line(chanceLine, "#000", 1.2, [4, 3], 0)]);
}
roc({ L: 360, T: 23, R: 547, B: 209, W: 34, H: 25, PR: 8, PT: 8 }, hipRocX, hipRocY, hipHiX, hipHiY, hipLoX, hipLoY);
roc({ L: 592, T: 23, R: 777, B: 209, W: 35, H: 25, PR: 7, PT: 8 }, frontRocX, frontRocY, frontHiX, frontHiY, frontLoX, frontLoY);

// ---------- c: fold metrics ----------
const metMajor = [0.4, 0.5, 0.6, 0.7, 0.8], metLabels = ["0.4", "0.5", "0.6", "0.7", "0.8"], metMinor = [0.45, 0.55, 0.65, 0.75];
function metric(box, title, hipPts, frontPts, means) {
  plot(box,
    scale(0.4, 2.6, [1, 2], regions, [], ""),
    scale(0.383, 0.817, metMajor, metLabels, metMinor, title),
    [line([{ x: 0.4, y: chance }, { x: 2.6, y: chance }], "#000", 1, [1.5, 2.5], 1),
     dots(hipPts, "rgba(150,150,150,0.55)", 5.3, 2),
     dots(frontPts, "rgba(128,152,176,0.55)", 5.3, 2)].concat(meanSegs(means, "#333", 2.2)));
}
metric({ L: 360, T: 247, R: 547, B: 427, W: 34, H: 16, PR: 8, PT: 8 }, "AUC", aucHip, aucFront, aucMeans);
metric({ L: 587, T: 247, R: 775, B: 427, W: 30, H: 16, PR: 8, PT: 8 }, "Balanced Accuracy", baHip, baFront, baMeans);

// ---------- d / e ----------
const probMajor = [0, 0.25, 0.5, 0.75, 1], probLabels = ["0.00", "0.25", "0.50", "0.75", "1.00"], probMinor = [0.125, 0.375, 0.625, 0.875];
const fpMajor = [0.2, 0.4, 0.6], fpLabels = ["0.2", "0.4", "0.6"], fpMinor = [0.3, 0.5, 0.7];
const cdrMajor = [0, 1, 2, 3], cdrLabels = ["0", "1", "2", "3"], cdrMinor = [0.5, 1.5, 2.5];

function strip(box, xTitle, yScale, ci, nci, means) {
  plot(box, scale(0.4, 2.6, [1, 2], groups, [], xTitle), yScale,
    [dots(ci, CI_COL, 2.4, 2), dots(nci, NCI_COL, 2.4, 2)].concat(meanSegs(means, "#000", 1.4)));
}
function reg(box, xScale, yScale, pts, fx, fy, bx, blo, bhi) {
  plot(box, xScale, yScale,
    [dots(pts, DOT_COL, 2.4, 2),
     band(poly(bx, bhi, bx, blo), "rgba(153,153,153,0.4)", 1),
     line(zipXY(fx, fy), "#3366ff", 1.6, [], 0)]);
}
const hipY = () => scale(-0.006, 1.012, probMajor, probLabels, probMinor, "Probability Impaired");
const frontY = (lo, hi) => scale(lo, hi, fpMajor, fpLabels, fpMinor, "Probability Impaired");

strip({ L: 36, T: 485, R: 192, B: 626, W: 32, H: 24, PR: 6, PT: 8 }, "Overall Cognition Label", hipY(), hipCogCI, hipCogNCI, hipCogMeans);
strip({ L: 234, T: 485, R: 388, B: 626, W: 35, H: 24, PR: 6, PT: 8 }, "Diagnosis Code", hipY(), hipDxCI, hipDxNCI, hipDxMeans);
reg({ L: 36, T: 661, R: 192, B: 800, W: 32, H: 24, PR: 6, PT: 8 },
  scale(-1.5, 31.5, [0, 10, 20, 30], ["0", "10", "20", "30"], [5, 15, 25], "MMSE"), hipY(),
  hipMmse, hipMmseFitX, hipMmseFitY, hipMmseBandX, hipMmseBandLo, hipMmseBandHi);
reg({ L: 234, T: 661, R: 388, B: 800, W: 35, H: 24, PR: 6, PT: 8 },
  scale(-0.31, 3.31, cdrMajor, cdrLabels, cdrMinor, "CDR"), hipY(),
  hipCdr, hipCdrFitX, hipCdrFitY, hipCdrBandX, hipCdrBandLo, hipCdrBandHi);

strip({ L: 426, T: 485, R: 583, B: 626, W: 32, H: 24, PR: 6, PT: 8 }, "Overall Cognition Label", frontY(0.124, 0.79), frontCogCI, frontCogNCI, frontCogMeans);
strip({ L: 622, T: 485, R: 780, B: 626, W: 30, H: 24, PR: 4, PT: 8 }, "Diagnosis Code", frontY(0.124, 0.79), frontDxCI, frontDxNCI, frontDxMeans);
reg({ L: 426, T: 660, R: 583, B: 800, W: 32, H: 24, PR: 6, PT: 8 },
  scale(1.65, 31.35, [10, 20, 30], ["10", "20", "30"], [5, 15, 25], "MMSE"), frontY(0.125, 0.784),
  frontMmse, frontMmseFitX, frontMmseFitY, frontMmseBandX, frontMmseBandLo, frontMmseBandHi);
reg({ L: 622, T: 660, R: 780, B: 800, W: 30, H: 24, PR: 4, PT: 8 },
  scale(-0.3, 3.27, cdrMajor, cdrLabels, cdrMinor, "CDR"), frontY(0.125, 0.784),
  frontCdr, frontCdrFitX, frontCdrFitY, frontCdrBandX, frontCdrBandLo, frontCdrBandHi);
</script>
</body>
</html>
